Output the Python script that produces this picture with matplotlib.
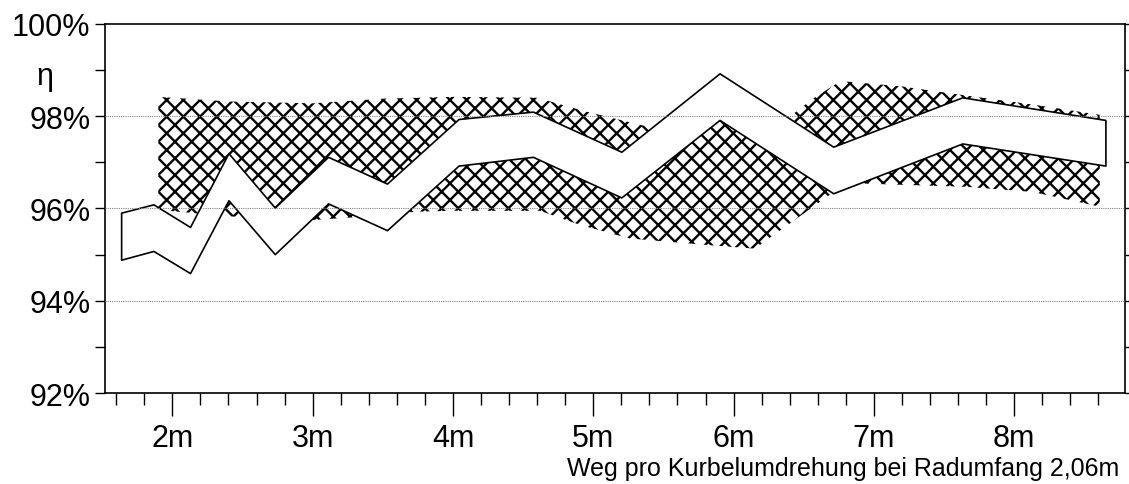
import numpy as np
import matplotlib
matplotlib.use("Agg")
import matplotlib.pyplot as plt
from matplotlib.ticker import MultipleLocator, FuncFormatter

plt.rcParams['font.family'] = ['Liberation Sans', 'DejaVu Sans']
plt.rcParams['hatch.linewidth'] = 1.7

# white band (upper / lower efficiency per gear)
gear_x = [1.635, 1.865, 2.126, 2.40, 2.73, 3.11, 3.53, 4.04, 4.57, 5.20, 5.90, 6.71, 7.63, 8.65]
band_hi = [95.91, 96.09, 95.60, 97.20, 96.02, 97.12, 96.54, 97.94, 98.10, 97.23, 98.93, 97.34, 98.41, 97.92]
band_lo = [94.89, 95.08, 94.60, 96.18, 95.01, 96.11, 95.53, 96.93, 97.12, 96.24, 97.92, 96.33, 97.41, 96.93]

# hatched range behind the band
hatch_top_x = [1.90, 2.40, 3.00, 3.50, 4.00, 4.60, 4.95, 5.38, 5.90, 6.40, 6.57, 6.74, 6.81, 7.19, 7.63, 8.14, 8.61]
hatch_top_y = [98.42, 98.32, 98.28, 98.38, 98.42, 98.40, 98.10, 97.78, 97.90, 97.99, 98.39, 98.72, 98.75, 98.65, 98.46, 98.25, 98.03]
hatch_bot_x = [1.90, 2.40, 3.00, 3.50, 3.73, 4.00, 4.62, 4.91, 5.26, 5.85, 6.15, 6.55, 6.71, 6.93, 7.66, 8.13, 8.61]
hatch_bot_y = [95.97, 95.83, 95.75, 95.85, 95.93, 95.95, 95.95, 95.64, 95.35, 95.20, 95.13, 96.00, 96.35, 96.54, 96.47, 96.36, 96.04]

fig = plt.figure(figsize=(11.29, 4.85), dpi=100)
ax = fig.add_axes([0.0930, 0.1876, 0.9035, 0.7609])

for gy in [94, 96, 98]:
    ax.axhline(gy, color='#808080', lw=0.8, ls=(0, (1, 1)), zorder=3)

ax.fill(np.concatenate([hatch_top_x, hatch_bot_x[::-1]]),
        np.concatenate([hatch_top_y, hatch_bot_y[::-1]]),
        facecolor='white', edgecolor='black', hatch='xx', linewidth=0, zorder=1)

ax.fill_between(gear_x, band_lo, band_hi, facecolor='white', edgecolor='black',
                linewidth=1.2, zorder=2)

ax.set_xlim(1.52, 8.79)
ax.set_ylim(92, 100)

ax.xaxis.set_major_locator(MultipleLocator(1))
ax.xaxis.set_minor_locator(MultipleLocator(0.2))
ax.xaxis.set_major_formatter(FuncFormatter(lambda v, p: f"{v:.0f}m"))
ax.yaxis.set_major_locator(MultipleLocator(2))
ax.yaxis.set_minor_locator(MultipleLocator(1))
ax.yaxis.set_major_formatter(FuncFormatter(lambda v, p: f"{v:.0f}%"))

ax.tick_params(axis='x', which='major', length=16.5, width=1, labelsize=22, pad=5)
ax.tick_params(axis='x', which='minor', length=8.5, width=1)
ax.tick_params(axis='y', which='both', length=7.5, width=1, labelsize=22, pad=3,
               right=True)
for s in ax.spines.values():
    s.set_linewidth(1.2)

ax.text(-0.059, 0.86, "η", transform=ax.transAxes, fontsize=22,
        ha='center', va='center')
fig.text(0.991, 0.008, "Weg pro Kurbelumdrehung bei Radumfang 2,06m",
         fontsize=18, ha='right', va='bottom')

fig.savefig("out.png", dpi=100)
